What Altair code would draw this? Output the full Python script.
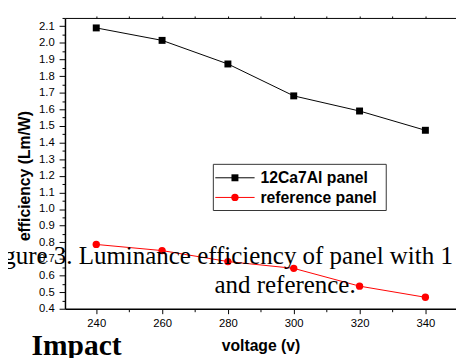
import altair as alt
import pandas as pd

# ---- data ----
voltage = [240, 260, 280, 300, 320, 340]
eff_12ca7al = [2.09, 2.015, 1.873, 1.681, 1.59, 1.474]
eff_reference = [0.787, 0.75, 0.684, 0.643, 0.536, 0.469]
series_names = ["12Ca7Al panel", "reference panel"]
series_colors = ["#000000", "#ff0000"]
series_shapes = ["square", "circle"]
series_sizes = [50, 56]

x_ticks = list(range(240, 341, 10))
y_ticks = [round(0.4 + 0.05 * i, 2) for i in range(36)]

caption_line1 = "Figure 3. Luminance efficiency of panel with 1"
caption_line2 = "and reference."
overlay_word = "Impact"
x_title = "voltage (v)"
y_title = "efficiency (Lm/W)"

df = pd.DataFrame({
    "voltage": voltage * 2,
    "efficiency": eff_12ca7al + eff_reference,
    "series": [series_names[0]] * len(voltage) + [series_names[1]] * len(voltage),
})
one = pd.DataFrame({"a": [0]})

SANS = "Liberation Sans"
SERIF = "Liberation Serif"

x_scale = alt.Scale(domain=[230.5, 349.3], nice=False, zero=False)
y_scale = alt.Scale(domain=[0.4, 2.15], nice=False, zero=False)

major_y = "abs(datum.value*10 - round(datum.value*10)) < 0.01"
y_axis = alt.Axis(
    values=y_ticks,
    labelExpr=f"{major_y} ? format(datum.value, '.1f') : ''",
    tickSize={"condition": {"test": major_y, "value": 6}, "value": 3},
    title=None, grid=False, labelOverlap=False, labelFlush=False,
    labelPadding=5, labelFont=SANS, labelFontSize=11.5, labelColor="#000",
    domainColor="#000", domainWidth=1.5, tickColor="#000", tickWidth=1,
)
x_axis_bottom = alt.Axis(
    orient="bottom",
    values=x_ticks,
    labelExpr="datum.value % 20 == 0 ? format(datum.value, 'd') : ''",
    tickSize={"condition": {"test": "datum.value % 20 == 0", "value": 5}, "value": 3},
    title=None, grid=False, labelOverlap=False, labelFlush=False,
    labelPadding=4, labelFont=SANS, labelFontSize=11.5, labelColor="#000",
    domainColor="#000", domainWidth=1.5, tickColor="#000", tickWidth=1,
)
x_axis_top = alt.Axis(
    orient="top", values=x_ticks, labels=False, tickSize=2, title=None,
    grid=False, domainColor="#000", domainWidth=1, tickColor="#000", tickWidth=1,
)

Y = alt.Y("efficiency:Q", scale=y_scale, axis=y_axis)

lines = alt.Chart(df).mark_line(strokeWidth=1).encode(
    x=alt.X("voltage:Q", scale=x_scale, axis=x_axis_bottom),
    y=Y,
    color=alt.Color("series:N", scale=alt.Scale(domain=series_names, range=series_colors), legend=None),
    detail="series:N",
)

layers = [lines]
for i, name in enumerate(series_names):
    pts = alt.Chart(df).transform_filter(alt.datum.series == name).mark_point(
        filled=True, shape=series_shapes[i], size=series_sizes[i],
        color=series_colors[i], opacity=1,
    ).encode(
        x=alt.X("voltage:Q", scale=x_scale, axis=x_axis_top if i == 0 else None),
        y=Y,
    )
    layers.append(pts)

# ---- legend box (manual) ----
legend_box = alt.Chart(one).mark_rect(fill="white", stroke="#333", strokeWidth=1).encode(
    x=alt.value(151), x2=alt.value(327), y=alt.value(149), y2=alt.value(196)
)
layers.append(legend_box)
row_y = [162.7, 182.7]
for i, name in enumerate(series_names):
    layers.append(alt.Chart(one).mark_rule(color=series_colors[i], strokeWidth=1).encode(
        x=alt.value(153), x2=alt.value(193), y=alt.value(row_y[i])))
    layers.append(alt.Chart(one).mark_point(
        filled=True, shape=series_shapes[i], size=series_sizes[i],
        color=series_colors[i], opacity=1).encode(
        x=alt.value(173), y=alt.value(row_y[i])))
    layers.append(alt.Chart(one).mark_text(
        text=name, font=SANS, fontSize=16, fontWeight="bold", color="#000",
        align="left", baseline="middle").encode(
        x=alt.value(199), y=alt.value(row_y[i] + 0.5)))

# ---- axis titles ----
layers.append(alt.Chart(one).mark_text(
    text=x_title, font=SANS, fontSize=16, fontWeight="bold", color="#000",
    align="center", baseline="alphabetic").encode(x=alt.value(199.5), y=alt.value(339)))
layers.append(alt.Chart(one).mark_text(
    text=y_title, font=SANS, fontSize=16, fontWeight="bold", color="#000",
    align="center", baseline="alphabetic", angle=270).encode(x=alt.value(-36), y=alt.value(161)))

# ---- overlaid page text ----
layers.append(alt.Chart(one).mark_text(
    text=caption_line1, font=SERIF, fontSize=25.4, color="#000",
    align="left", baseline="alphabetic").encode(x=alt.value(-84), y=alt.value(250)))
layers.append(alt.Chart(one).mark_text(
    text=caption_line2, font=SERIF, fontSize=25.4, color="#000",
    align="center", baseline="alphabetic").encode(x=alt.value(224), y=alt.value(280)))
layers.append(alt.Chart(one).mark_text(
    text=overlay_word, font=SERIF, fontSize=30, fontWeight="bold", color="#000",
    align="left", baseline="alphabetic").encode(x=alt.value(-34), y=alt.value(343)))

chart = alt.layer(*layers).resolve_axis(x="independent").properties(
    width=398, height=296,
    padding={"left": 58, "top": 7, "right": 0, "bottom": 47},
    autosize=alt.AutoSizeParams(type="none"),
    background="white",
).configure_view(stroke=None)

chart.save("out.html", embed_options={"renderer": "svg", "actions": False})
